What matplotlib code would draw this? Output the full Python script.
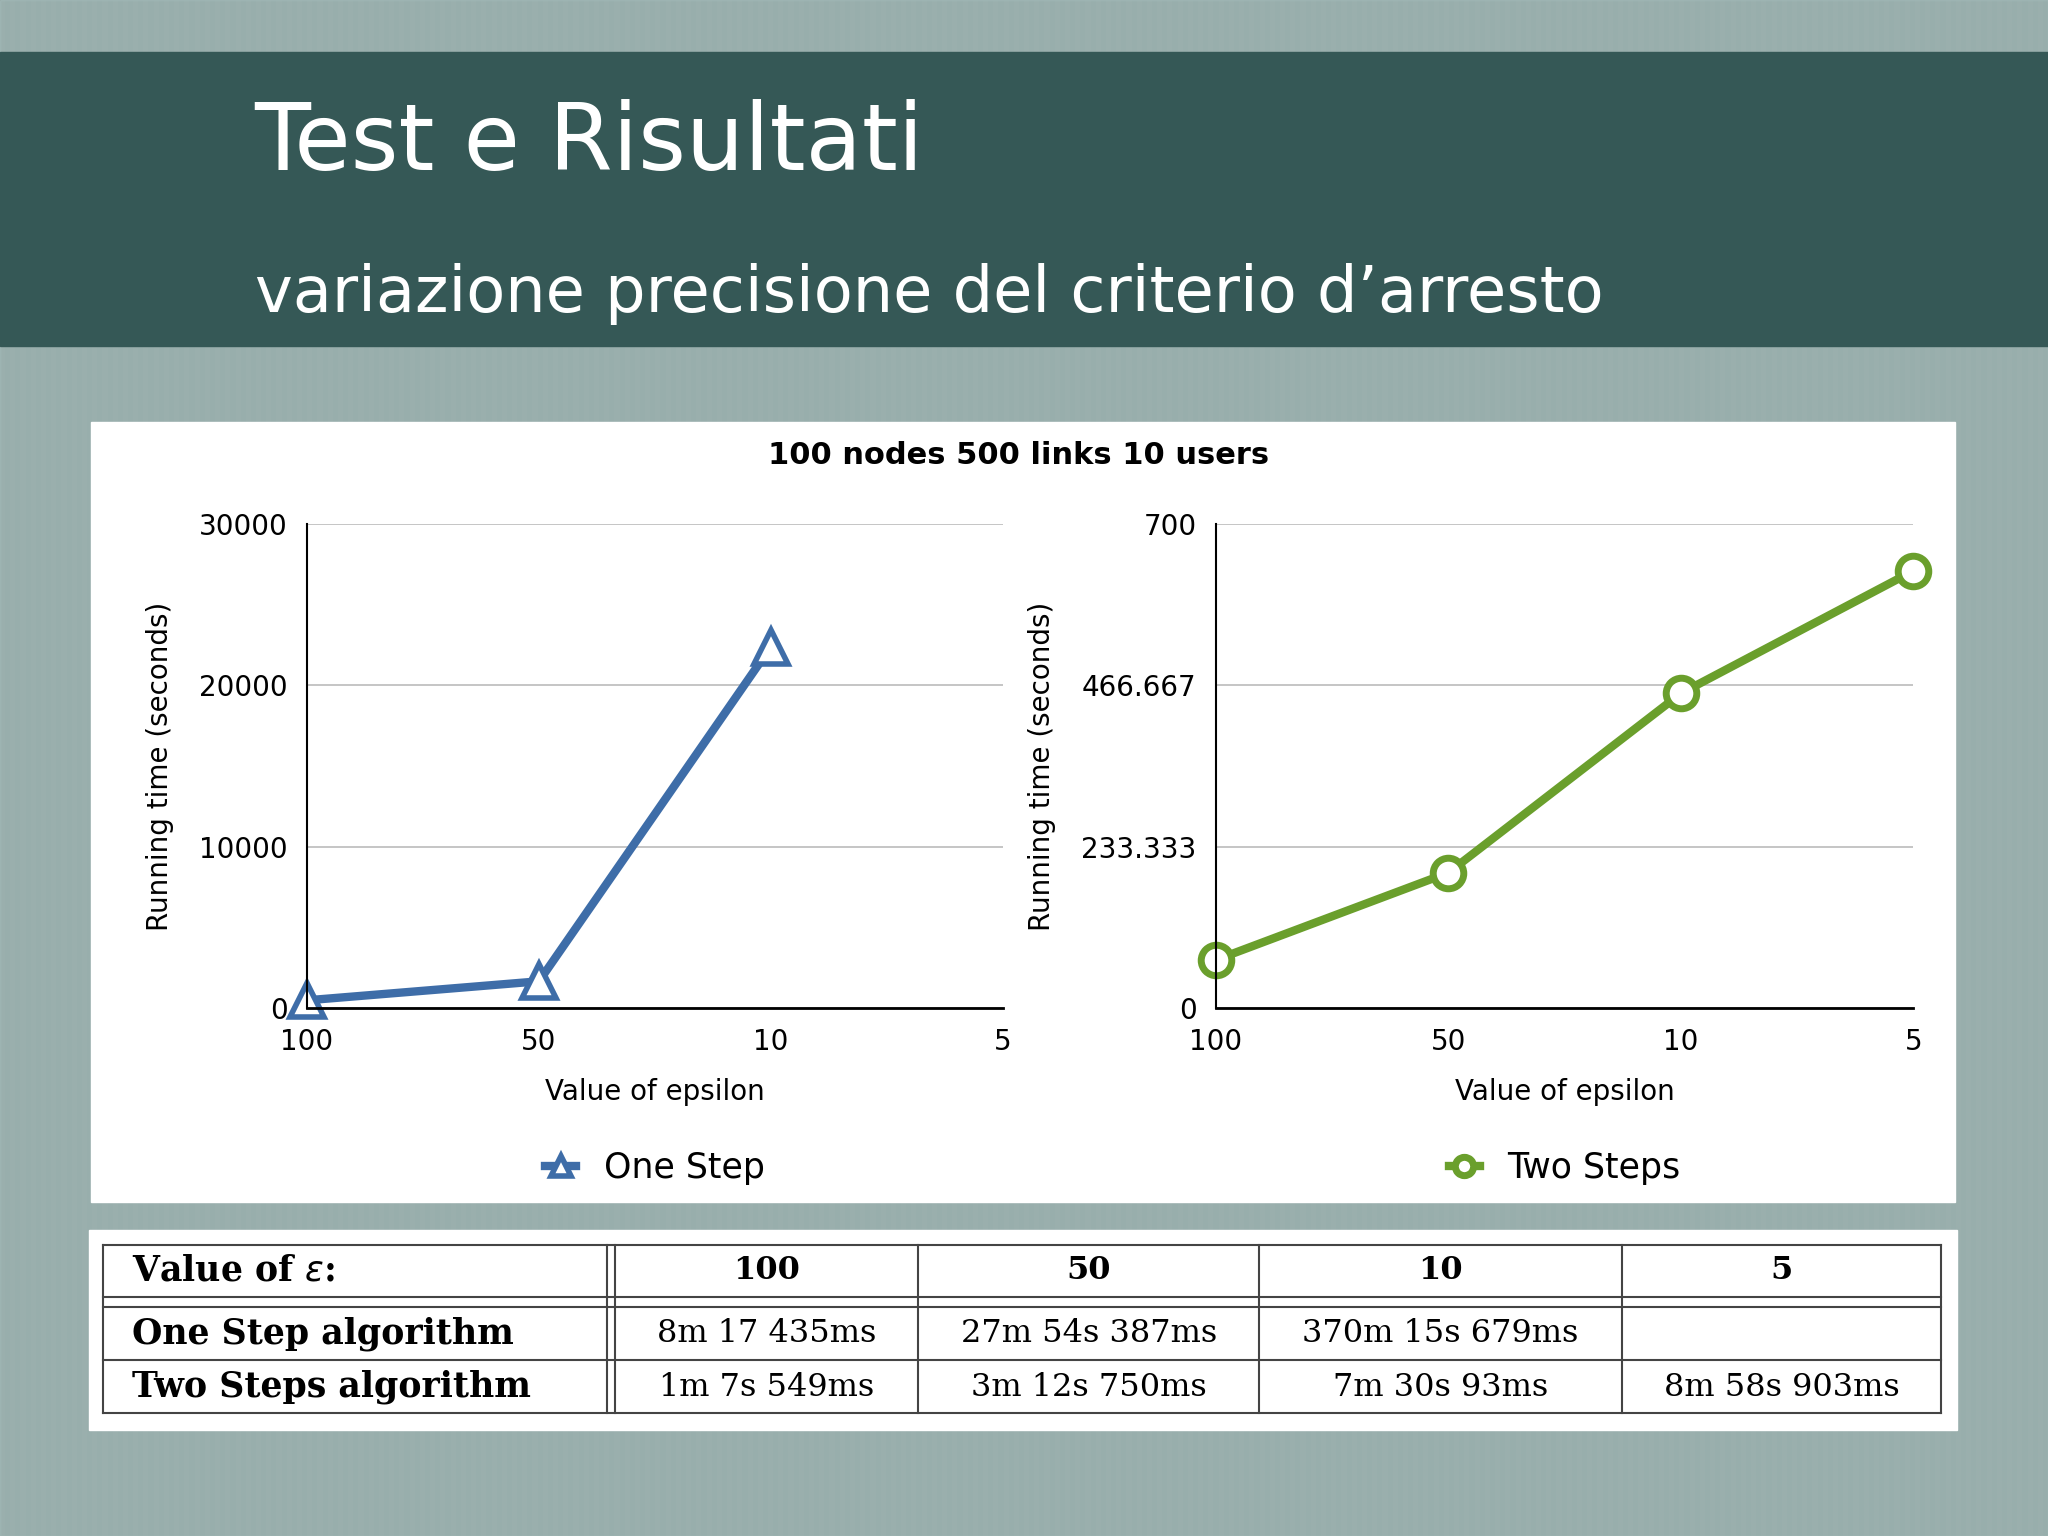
import numpy as np
import matplotlib.pyplot as plt
from matplotlib import font_manager
from matplotlib.patches import Rectangle

categories = ["100", "50", "10", "5"]
one_step = [497, 1674, 22400]          # seconds
two_steps = [70, 196, 455, 632]        # seconds
one_ticks = [0, 10000, 20000, 30000]
two_ticks = [0, 233.333, 466.667, 700]
two_tick_labels = ["0", "233.333", "466.667", "700"]
table_header = ["Value of $\\epsilon$:", "100", "50", "10", "5"]
table_one = ["One Step algorithm", "8m 17 435ms", "27m 54s 387ms", "370m 15s 679ms", ""]
table_two = ["Two Steps algorithm", "1m 7s 549ms", "3m 12s 750ms", "7m 30s 93ms", "8m 58s 903ms"]

names = {f.name for f in font_manager.fontManager.ttflist}
title_font = "Liberation Sans Narrow" if "Liberation Sans Narrow" in names else "DejaVu Sans"

W, H = 1568, 1176
fig = plt.figure(figsize=(20.48, 15.36), dpi=100)


def fx(x):
    return x / W


def fy(y):
    return 1 - y / H


def box(x0, y0, x1, y1):
    return [fx(x0), fy(y1), fx(x1) - fx(x0), fy(y0) - fy(y1)]


# striped background
bg = fig.add_axes([0, 0, 1, 1])
bg.set_axis_off()
stripes = np.tile(np.array([0.0, 0.04] * 200), (2, 1))
bg.imshow(stripes, cmap="Greys", aspect="auto", extent=[0, 1, 0, 1], alpha=1, vmin=-1.2, vmax=0.6)
bg.add_patch(Rectangle((0, 0), 1, 1, color="#a3bcba", alpha=0.85))
bg.add_patch(Rectangle((0, fy(265)), 1, fy(40) - fy(265), color="#355856"))
bg.add_patch(Rectangle((fx(70), fy(920)), fx(1497) - fx(70), fy(323) - fy(920), color="white"))
bg.add_patch(Rectangle((fx(68), fy(1095)), fx(1498) - fx(68), fy(942) - fy(1095), color="white"))
bg.set_xlim(0, 1)
bg.set_ylim(0, 1)

fig.text(fx(195), fy(110), "Test e Risultati", color="white", fontsize=66,
         family=title_font, va="center")
fig.text(fx(195), fy(225), "variazione precisione del criterio d\u2019arresto", color="white",
         fontsize=46, family=title_font, va="center")
fig.text(fx(780), fy(349), "100 nodes 500 links 10 users", fontsize=22, weight="bold",
         ha="center", va="center")


def style(ax, ticks, labels, ylim):
    ax.set_xlim(0, 3)
    ax.set_ylim(*ylim)
    ax.set_xticks(range(4))
    ax.set_xticklabels(categories)
    ax.set_yticks(ticks)
    ax.set_yticklabels(labels)
    ax.tick_params(length=0, labelsize=20, pad=14)
    ax.grid(axis="y", color="#bbbbbb", lw=1.2)
    for s in ["top", "right"]:
        ax.spines[s].set_visible(False)
    ax.spines["left"].set_linewidth(1.5)
    ax.spines["bottom"].set_linewidth(2)
    ax.set_xlabel("Value of epsilon", fontsize=20, labelpad=16)
    ax.set_ylabel("Running time (seconds)", fontsize=20, labelpad=18)
    ax.set_facecolor("none")


ax1 = fig.add_axes(box(235, 401, 768, 772))
ax1.plot(range(len(one_step)), one_step, color="#3e6da8", lw=6, marker="^", ms=24,
         mfc="white", mec="#3e6da8", mew=4, clip_on=False, label="One Step")
style(ax1, one_ticks, [str(t) for t in one_ticks], (0, 30000))
ax1.legend(loc="center", bbox_to_anchor=(0.5, -0.33), frameon=False, fontsize=25,
           markerscale=0.6, handlelength=0.9)

ax2 = fig.add_axes(box(931, 401, 1465, 772))
ax2.plot(range(len(two_steps)), two_steps, color="#6a9f2c", lw=6, marker="o", ms=22,
         mfc="white", mec="#6a9f2c", mew=5, clip_on=False, label="Two Steps")
style(ax2, two_ticks, two_tick_labels, (0, 700))
ax2.legend(loc="center", bbox_to_anchor=(0.5, -0.33), frameon=False, fontsize=25,
           markerscale=0.6, handlelength=0.9)

# table
tb = fig.add_axes([0, 0, 1, 1])
tb.set_axis_off()
tb.set_xlim(0, W)
tb.set_ylim(H, 0)
cols = [79, 465, 703, 964, 1242, 1486]
for y in [953, 993, 1001, 1041, 1082]:
    tb.plot([79, 1486], [y, y], color="#444444", lw=1.5)
for x in [79, 465, 471, 703, 964, 1242, 1486]:
    tb.plot([x, x], [953, 1082], color="#444444", lw=1.5)
row_y = [973, 1021, 1062]
for r, row in enumerate([table_header, table_one, table_two]):
    for c, txt in enumerate(row):
        if c == 0:
            tb.text(101, row_y[r], txt, fontsize=25, family="DejaVu Serif", weight="bold",
                    va="center", ha="left")
        else:
            cx = (cols[c] + cols[c + 1]) / 2 + (3 if c == 1 else 0)
            tb.text(cx, row_y[r], txt, fontsize=23, family="DejaVu Serif",
                    weight="bold" if r == 0 else "normal", va="center", ha="center")

fig.savefig("out.png", dpi=100)
plt.close("all")
